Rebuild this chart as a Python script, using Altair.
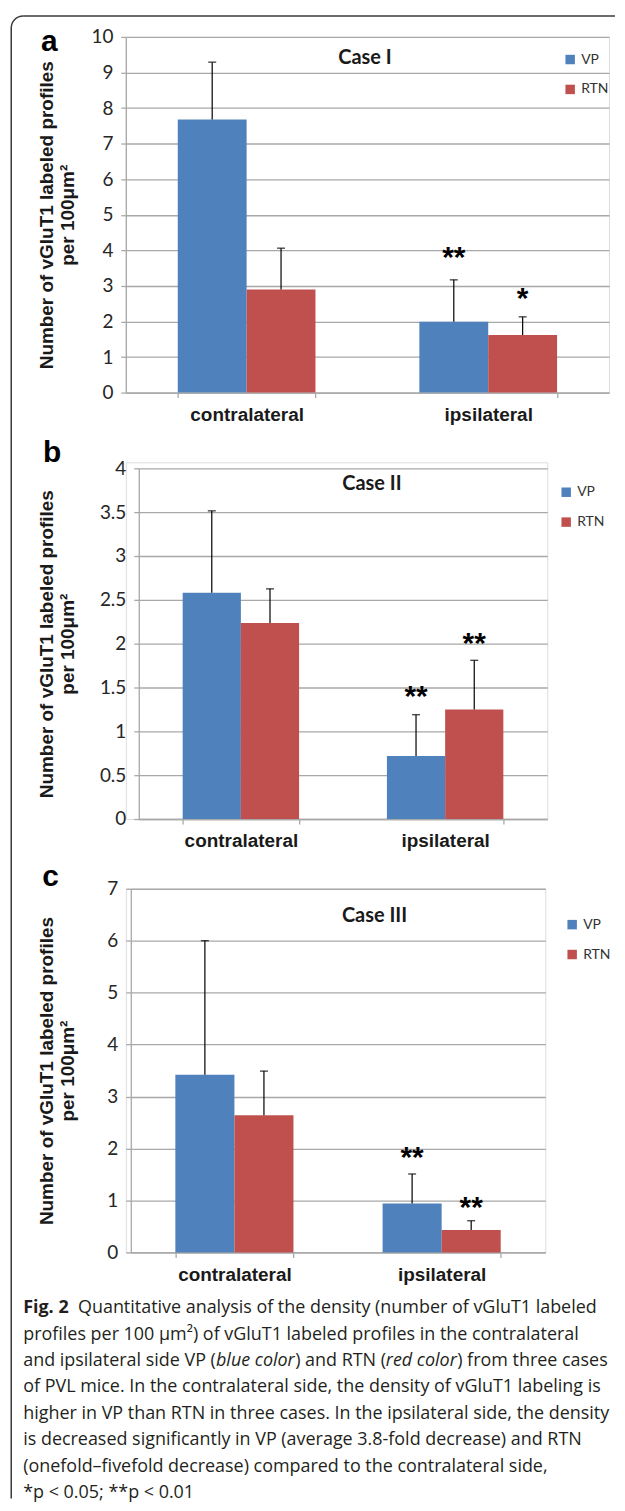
import math
import altair as alt
import pandas as pd

# ---------------- data ----------------
categories = ["contralateral", "ipsilateral"]
series = ["VP", "RTN"]
series_colors = ["#4f81bd", "#c0504d"]

case_titles = ["Case I", "Case II", "Case III"]
panel_letters = ["a", "b", "c"]

# order: contralateral VP, contralateral RTN, ipsilateral VP, ipsilateral RTN
case1_mean = [7.68, 2.90, 1.99, 1.62]
case1_upper = [9.29, 4.06, 3.17, 2.13]
case1_stars = ["", "", "**", "*"]
case1_star_y = [0.0, 0.0, 3.87, 2.71]
case1_ticks = [0, 1, 2, 3, 4, 5, 6, 7, 8, 9, 10]

case2_mean = [2.58, 2.235, 0.72, 1.25]
case2_upper = [3.515, 2.625, 1.19, 1.81]
case2_stars = ["", "", "**", "**"]
case2_star_y = [0.0, 0.0, 1.42, 2.03]
case2_ticks = [0, 0.5, 1, 1.5, 2, 2.5, 3, 3.5, 4]

case3_mean = [3.42, 2.64, 0.94, 0.43]
case3_upper = [6.00, 3.49, 1.51, 0.61]
case3_stars = ["", "", "**", "**"]
case3_star_y = [0.0, 0.0, 1.87, 0.91]
case3_ticks = [0, 1, 2, 3, 4, 5, 6, 7]

y_title = ["Number of vGluT1 labeled profiles", "per 100\u03bcm\u00b2"]

caption_fig = "Fig. 2"
caption_line1 = "Quantitative analysis of the density (number of vGluT1 labeled"
caption_line2 = "profiles per 100 \u03bcm\u00b2) of vGluT1 labeled profiles in the contralateral"
caption_line3 = ["and ipsilateral side VP (", "blue color", ") and RTN (", "red color", ") from three cases"]
caption_rest = [
    "of PVL mice. In the contralateral side, the density of vGluT1 labeling is",
    "higher in VP than RTN in three cases. In the ipsilateral side, the density",
    "is decreased significantly in VP (average 3.8-fold decrease) and RTN",
    "(onefold\u2013fivefold decrease) compared to the contralateral side,",
    "*p < 0.05; **p < 0.01",
]

# ---------------- styling ----------------
GRID = "#a8a8a8"
INK = "#1a1a1a"
BOLD_FONT = "Liberation Sans"
NUM_FONT = "Lato"
CAP_FONT = "Open Sans"
CAP_SIZE = 18
dummy = pd.DataFrame({"d": [0]})

# approximate Open Sans advance widths (units per em = 2048), used only to
# chain the regular / italic pieces of one caption line
_ADV = {" ": 532, "(": 604, ")": 604, "a": 1139, "b": 1255, "c": 975, "d": 1255,
        "e": 1149, "f": 694, "h": 1257, "i": 518, "l": 518, "m": 1905, "n": 1257,
        "o": 1237, "p": 1255, "r": 836, "s": 977, "t": 723, "u": 1257, "P": 1235,
        "R": 1266, "T": 1120, "N": 1516, "V": 1212}


def text_width(s, size, italic=False):
    w = sum(_ADV.get(ch, 1100) for ch in s) / 2048.0 * size
    return w * (0.95 if italic else 1.0)


def frame(mean, upper, stars, star_y):
    rows = []
    i = 0
    for c in categories:
        for s in series:
            rows.append({"category": c, "series": s, "mean": mean[i],
                         "upper": upper[i], "stars": stars[i], "star_y": star_y[i]})
            i += 1
    return pd.DataFrame(rows)


def txt(text, x, y, **props):
    return alt.Chart(dummy).mark_text(text=text, **props).encode(
        x=alt.value(x), y=alt.value(y))


def panel(df, ticks, fmt, ymax, o, w, h, top, title, title_xy, letter, letter_xy,
          legend_xy, title_x, extra=None):
    xs = alt.X("category:N", sort=categories,
               scale=alt.Scale(domain=categories, range=[o, o + w],
                               paddingInner=0.43, paddingOuter=0.215),
               axis=alt.Axis(title=None, labelAngle=0, labelFont=BOLD_FONT,
                             labelFontWeight="bold", labelFontSize=19,
                             labelColor=INK, labelPadding=8, tickSize=5,
                             tickColor=GRID, tickWidth=1.3, domainColor=GRID,
                             domainWidth=1.3, tickBand="extent"))
    xo = alt.XOffset("series:N", sort=series,
                     scale=alt.Scale(domain=series, paddingInner=0, paddingOuter=0))
    ys = alt.Y("mean:Q",
               scale=alt.Scale(domain=[0, ymax], range=[h, top], nice=False, zero=True),
               axis=alt.Axis(values=ticks, tickCount=len(ticks), format=fmt,
                             labelOverlap=False, grid=True, gridColor=GRID,
                             gridWidth=1.3, domainColor=GRID, domainWidth=1.3,
                             tickColor=GRID, tickWidth=1.3, tickSize=5,
                             labelFont=NUM_FONT, labelFontSize=19, labelColor="#262626",
                             labelPadding=8, offset=-o,
                             title=y_title, titleFont=BOLD_FONT, titleFontWeight="bold",
                             titleFontSize=19, titleColor=INK, titleLineHeight=22,
                             titleAngle=270, titleAlign="center", titleBaseline="top",
                             titleX=title_x, titleY=(top + h) / 2))
    base = alt.Chart(df)
    bars = base.mark_bar().encode(
        x=xs, xOffset=xo, y=ys,
        color=alt.Color("series:N", sort=series,
                        scale=alt.Scale(domain=series, range=series_colors),
                        legend=alt.Legend(title=None, orient="none", direction="vertical",
                                          legendX=legend_xy[0], legendY=legend_xy[1],
                                          symbolType="square", symbolSize=90,
                                          symbolStrokeWidth=0, labelFont=NUM_FONT,
                                          labelFontSize=14, labelColor="#333333",
                                          labelOffset=4, rowPadding=16, padding=0)))
    err = base.mark_rule(color="#000000", strokeWidth=1.2).encode(
        x="category:N", xOffset="series:N", y="mean:Q", y2="upper:Q")
    cap = base.mark_tick(color="#000000", thickness=1.4, size=8).encode(
        x="category:N", xOffset="series:N", y="upper:Q")
    st = base.transform_filter("datum.stars != ''").mark_text(
        font=BOLD_FONT, fontWeight="bold", fontSize=30, baseline="alphabetic",
        dy=12, color="#000000").encode(
        x="category:N", xOffset="series:N", y="star_y:Q", text="stars:N")
    ttl = txt(title, title_xy[0], title_xy[1], font=NUM_FONT, fontWeight="bold",
              fontSize=20, color=INK, align="center", baseline="middle")
    let = txt(letter, letter_xy[0], letter_xy[1], font=BOLD_FONT, fontWeight="bold",
              fontSize=30, color="#000000", align="center", baseline="alphabetic")
    layers = [bars, err, cap, st, ttl, let]
    if extra:
        layers += extra
    return alt.layer(*layers).properties(width=o + w, height=h)


# frame around the figure (drawn from panel a)
FR = "#3a3a3a"
frame_layers = [
    alt.Chart(dummy).mark_rule(color=FR, strokeWidth=1.5).encode(
        x=alt.value(-103), x2=alt.value(491), y=alt.value(-21)),
    alt.Chart(dummy).mark_rule(color=FR, strokeWidth=1.5).encode(
        x=alt.value(-115), y=alt.value(-9), y2=alt.value(1467)),
    alt.Chart(dummy).mark_arc(theta=3 * math.pi / 2, theta2=2 * math.pi,
                              innerRadius=11.25, outerRadius=12.75, color=FR).encode(
        x=alt.value(-103), y=alt.value(-9)),
]

# caption (drawn from panel c; group origin at page x 125, y 888)
CAP = dict(font=CAP_FONT, fontSize=CAP_SIZE, color="#231f20", align="left", baseline="middle")
left = -103
cy0 = 421
lh = 26.5
cap_layers = [
    txt(caption_fig, left, cy0, **{**CAP, "fontWeight": "bold"}),
    txt(caption_line1, left + 55, cy0, **CAP),
    txt(caption_line2, left, cy0 + lh, **CAP),
]
xpos = left
for k, seg in enumerate(caption_line3):
    style = dict(CAP)
    ital = k in (1, 3)
    if ital:
        style["fontStyle"] = "italic"
    cap_layers.append(txt(seg, xpos, cy0 + 2 * lh, **style))
    xpos += text_width(seg, CAP_SIZE, ital)
for k, line in enumerate(caption_rest):
    cap_layers.append(txt(line, left, cy0 + (3 + k) * lh, **CAP))

pa = panel(frame(case1_mean, case1_upper, case1_stars, case1_star_y), case1_ticks, "d", 10,
           0, 485, 357, 0, case_titles[0], (240, 21.3), panel_letters[0], (-76.7, 13.7),
           (439, 15.7), -89, extra=frame_layers)
pb = panel(frame(case2_mean, case2_upper, case2_stars, case2_star_y), case2_ticks, "~g", 4,
           13, 410, 358, 6, case_titles[1], (247, 21.7), panel_letters[1], (-74, 0),
           (435, 23), -102)
pc = panel(frame(case3_mean, case3_upper, case3_stars, case3_star_y), case3_ticks, "d", 7,
           5, 416, 365, 0, case_titles[2], (249.6, 27.7), panel_letters[2], (-75.5, -3),
           (441, 29), -94, extra=cap_layers)

chart = alt.vconcat(pa, pb, pc, spacing=70, bounds="flush").resolve_scale(
    x="independent", y="independent", color="independent", xOffset="independent"
).resolve_legend(color="independent").properties(
    padding={"left": 1.25, "top": 3.25, "right": 0, "bottom": 0}
).configure_view(stroke=None).configure(background="white")

chart.save("out.html", embed_options={"renderer": "svg", "actions": False})
